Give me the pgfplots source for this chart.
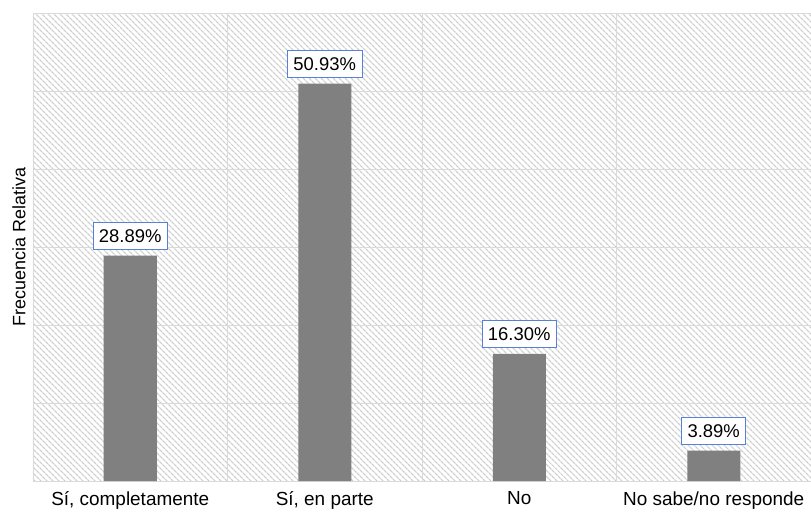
\documentclass[border=0pt]{standalone}
\usepackage{fontspec}
\setmainfont{Liberation Sans}
\usepackage{pgfplots}
\pgfplotsset{compat=1.18}
\usetikzlibrary{patterns.meta}
\definecolor{bargray}{RGB}{128,128,128}
\definecolor{gridgray}{RGB}{218,218,218}
\definecolor{hatchgray}{RGB}{205,205,205}
\definecolor{boxblue}{RGB}{85,130,215}
\begin{document}
\begin{tikzpicture}
\useasboundingbox (-33bp,-31bp) rectangle (778bp,481bp);
\begin{axis}[
  width=778bp, height=468bp, scale only axis,
  at={(0,0)}, anchor=south west,
  /pgf/number format/assume math mode=true,
  ybar, bar width=53bp,
  xmin=-0.5, xmax=3.5, ymin=0, ymax=60,
  xtick={0,1,2,3},
  xticklabels={{Sí, completamente},{Sí, en parte},{No},{No sabe/no responde}},
  minor xtick={-0.5,0.5,1.5,2.5,3.5},
  ytick={0,10,20,30,40,50,60}, yticklabels={},
  major tick length=0pt, minor tick length=0pt,
  ymajorgrids, xminorgrids,
  major grid style={draw=gridgray, line width=0.9bp},
  minor grid style={draw=gridgray, line width=0.9bp},
  axis line style={draw=gridgray, line width=0.9bp},
  axis background/.style={pattern={Lines[angle=-45,distance=3.9bp,line width=1.3bp]}, pattern color=hatchgray},
  xticklabel style={font=\fontsize{19}{22}\selectfont, inner sep=0pt, anchor=north, yshift=-10.5bp},
  ylabel={Frecuencia Relativa},
  ylabel style={font=\fontsize{18}{20}\selectfont, at={(axis description cs:-0.018,0.5)}, anchor=center, rotate=0},
  nodes near coords={\pgfmathprintnumber[fixed,fixed zerofill,precision=2]{\pgfplotspointmeta}\%},
  every node near coord/.append style={font=\fontsize{18.5}{21}\selectfont, draw=boxblue, line width=0.8bp, fill=white, inner xsep=6bp, inner ysep=7bp, anchor=south, yshift=6bp, text=black},
]
\addplot[fill=bargray, draw=none] coordinates {(0,28.89) (1,50.93) (2,16.30) (3,3.89)};
\end{axis}
\end{tikzpicture}
\end{document}
